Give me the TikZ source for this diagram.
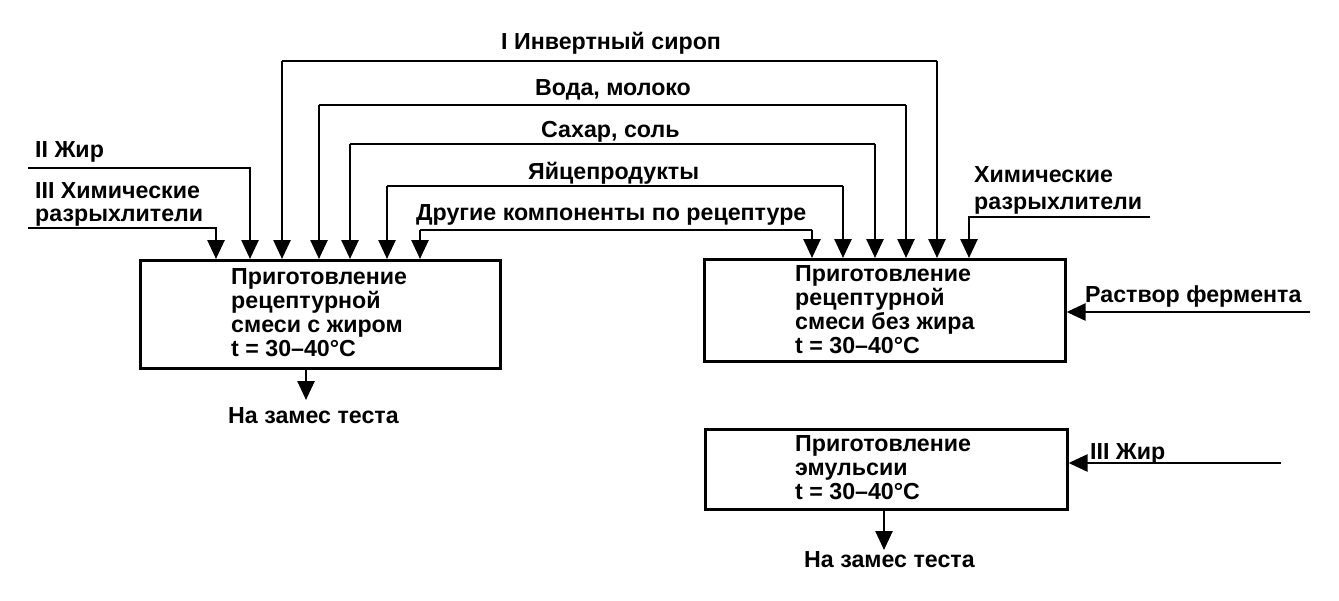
\documentclass[tikz,border=0pt]{standalone}
\usepackage{fontspec}
\setmainfont{Liberation Sans}
\usetikzlibrary{arrows.meta}
\begin{document}
\begin{tikzpicture}[x=1pt,y=-1pt,
 ln/.style={line width=2.6pt},
 arr/.style={line width=2.6pt,-{Triangle[width=17pt,length=19pt]}},
 box/.style={draw,line width=2.6pt,anchor=north west,inner sep=0pt},
 lbl/.style={font=\bfseries\fontsize{23.2}{24}\selectfont,anchor=base west,inner sep=0pt},
 btxt/.style={font=\bfseries\fontsize{23.2}{24}\selectfont,align=left,anchor=north west,inner sep=0pt}]
\useasboundingbox (0,0) rectangle (1339,600);

% boxes
\node[box,minimum width=360pt,minimum height=108pt] (b1) at (139,259) {};
\node[box,minimum width=361pt,minimum height=102pt] (b2) at (703,258) {};
\node[box,minimum width=362pt,minimum height=80pt] (b3) at (704,428) {};

% box texts
\node[btxt] (t1) at (231,268) {Приготовление\\рецептурной\\смеси с жиром\\t = 30–40°C};
\node[btxt] (t2) at (795,265) {Приготовление\\рецептурной\\смеси без жира\\t = 30–40°C};
\node[btxt] (t3) at (795,435) {Приготовление\\эмульсии\\t = 30–40°C};

% labels
\node[lbl] (l1) at (501,49) {I Инвертный сироп};
\node[lbl] (l2) at (535,95) {Вода, молоко};
\node[lbl] (l3) at (541,137) {Сахар, соль};
\node[lbl] (l4) at (528,179) {Яйцепродукты};
\node[lbl] (l5) at (416,220) {Другие компоненты по рецептуре};
\node[lbl] (l6) at (35,157) {II Жир};
\node[lbl] (l7) at (35,198) {III Химические};
\node[lbl] (l8) at (35,221) {разрыхлители};
\node[lbl] (l9) at (974,182) {Химические};
\node[lbl] (l10) at (974,209) {разрыхлители};
\node[lbl] (l11) at (1085,302) {Раствор фермента};
\node[lbl] (l12) at (1090,459) {III Жир};
\node[lbl] (o1) at (228,423) {На замес теста};
\node[lbl] (o2) at (804,567) {На замес теста};

% coordinates: tops of boxes
\coordinate (a1) at (216,259);
\coordinate (a2) at (250,259);
\coordinate (a3) at (282,259);
\coordinate (a4) at (319,259);
\coordinate (a5) at (350,259);
\coordinate (a6) at (387,259);
\coordinate (a7) at (420,259);
\coordinate (c1) at (812,258);
\coordinate (c2) at (843,258);
\coordinate (c3) at (875,258);
\coordinate (c4) at (906,258);
\coordinate (c5) at (937,258);
\coordinate (c6) at (969,258);

% horizontal bus corners
\coordinate (h1) at (282,61);  \coordinate (h1r) at (937,61);
\coordinate (h2) at (319,105); \coordinate (h2r) at (906,105);
\coordinate (h3) at (350,144); \coordinate (h3r) at (875,144);
\coordinate (h4) at (387,186); \coordinate (h4r) at (843,186);
\coordinate (h5) at (420,230); \coordinate (h5r) at (812,230);

% shared inputs
\draw[arr] (h1r) -- (c5);
\draw[arr] (h1) -- (a3);
\draw[ln] (h1) -- (h1r);
\draw[arr] (h2r) -- (c4);
\draw[arr] (h2) -- (a4);
\draw[ln] (h2) -- (h2r);
\draw[arr] (h3r) -- (c3);
\draw[arr] (h3) -- (a5);
\draw[ln] (h3) -- (h3r);
\draw[arr] (h4r) -- (c2);
\draw[arr] (h4) -- (a6);
\draw[ln] (h4) -- (h4r);
\draw[arr] (h5r) -- (c1);
\draw[arr] (h5) -- (a7);
\draw[ln] (h5) -- (h5r);

% left inputs
\coordinate (s1) at (28,168);
\coordinate (s2) at (28,228);
\draw[arr] (s1) -| (a2);
\draw[arr] (s2) -| (a1);

% right inputs
\coordinate (s3) at (1150,217);
\draw[arr] (s3) -| (c6);
\coordinate (s4) at (1310,312);
\draw[arr] (s4) -- (s4 -| b2.east);
\coordinate (s5) at (1281,463);
\draw[arr] (s5) -- (s5 -| b3.east);

% outputs
\coordinate (e1) at (306,400);
\draw[arr] (e1 |- b1.south) -- (e1);
\coordinate (e2) at (884,550);
\draw[arr] (e2 |- b3.south) -- (e2);
\end{tikzpicture}
\end{document}
